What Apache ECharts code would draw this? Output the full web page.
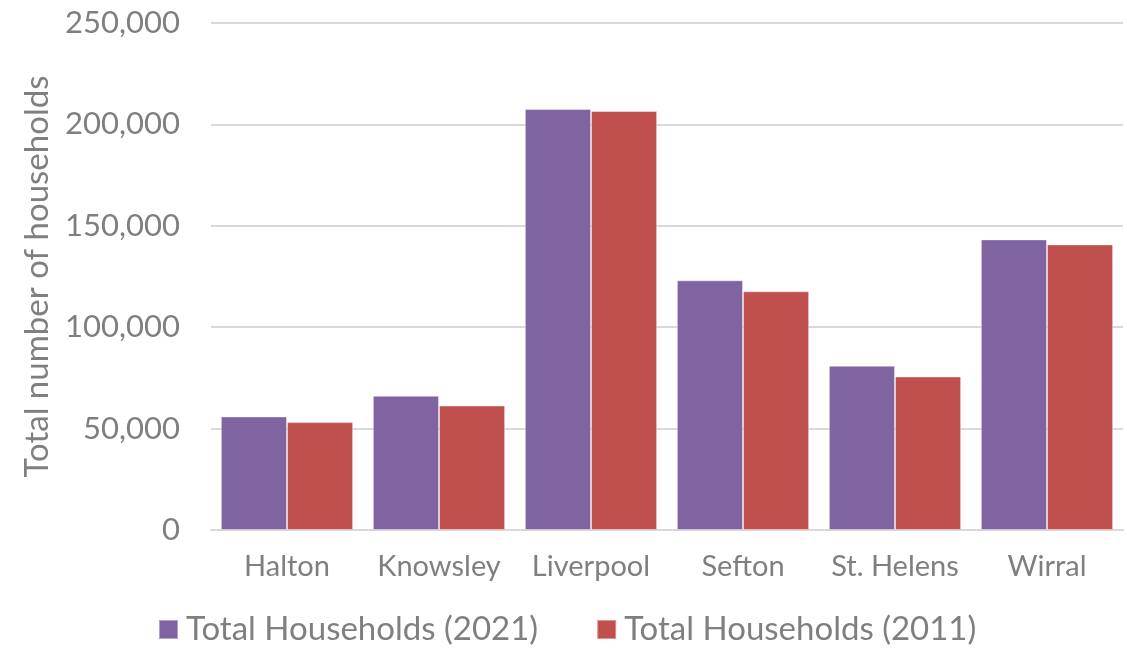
<!DOCTYPE html>
<html><head><meta charset="utf-8">
<script src="https://cdn.jsdelivr.net/npm/echarts@6/dist/echarts.min.js"></script>
<style>html,body{margin:0;padding:0;background:#fff}#c{width:1127px;height:649px}</style>
</head><body><div id="c"></div>
<script>
const categories = ["Halton","Knowsley","Liverpool","Sefton","St. Helens","Wirral"];
const households2021 = [56000, 66200, 207600, 123100, 81000, 143300];
const households2011 = [53200, 61400, 206600, 117700, 75700, 140800];
const seriesNames = ["Total Households (2021)", "Total Households (2011)"];
const FONT = "Lato";
const chart = echarts.init(document.getElementById('c'));
chart.setOption({
  animation:false,
  textStyle:{fontFamily:FONT},
  grid:{left:211,right:4,top:23,bottom:119,containLabel:false},
  legend:{
    data:seriesNames, top:608, left:153,
    itemWidth:19, itemHeight:19, itemGap:58,
    textStyle:{fontSize:33,color:'#7f7f7f',fontFamily:FONT,padding:[0,0,0,3]},
    icon:'rect'
  },
  xAxis:{
    type:'category', data:categories,
    axisLine:{lineStyle:{color:'#d9d9d9',width:2}},
    axisTick:{show:false},
    axisLabel:{interval:0,fontSize:29,color:'#7f7f7f',margin:22,fontFamily:FONT}
  },
  yAxis:{
    type:'value', min:0, max:250000, interval:50000,
    name:'Total number of households', nameLocation:'middle', nameGap:156,
    nameTextStyle:{fontSize:33,color:'#7f7f7f',fontFamily:FONT},
    axisLine:{show:false}, axisTick:{show:false},
    axisLabel:{fontSize:31,color:'#7f7f7f',margin:31,fontFamily:FONT,
      formatter:v=>v.toLocaleString('en-US')},
    splitLine:{lineStyle:{color:'#d9d9d9',width:2}}
  },
  series:[
    {name:seriesNames[0],type:'bar',data:households2021,barGap:'0%',barCategoryGap:'13%',
     itemStyle:{color:'#8064a2',borderColor:'rgba(255,255,255,0.4)',borderWidth:1}},
    {name:seriesNames[1],type:'bar',data:households2011,barGap:'0%',barCategoryGap:'13%',
     itemStyle:{color:'#c0504d',borderColor:'rgba(255,255,255,0.4)',borderWidth:1}}
  ]
});
</script></body></html>
